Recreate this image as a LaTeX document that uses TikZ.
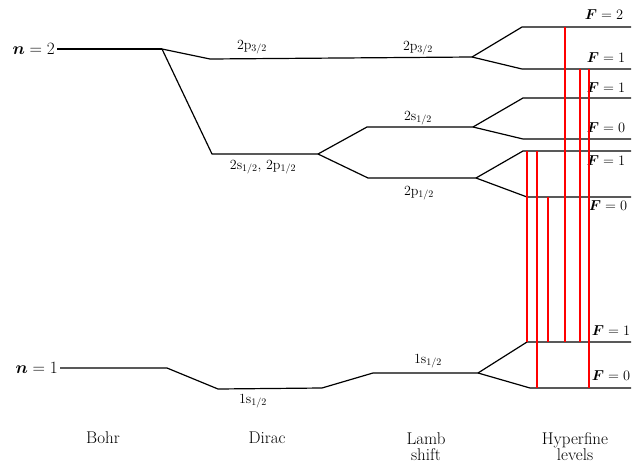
\documentclass[tikz,border=0pt]{standalone}
\usepackage{bm}

\colorlet{TransitionLine}{red}
\colorlet{LevelLine}{black}

\begin{document}
\begin{tikzpicture}[x=1pt, y=-1pt,
    font=\fontsize{14}{16}\selectfont,
    level/.style={draw=LevelLine, line width=1.2pt, line join=round},
    transition/.style={draw=TransitionLine, line width=1.1pt},
    hflabel/.style={font=\fontsize{15}{17}\selectfont},
    title/.style={font=\fontsize{17}{18}\selectfont, align=center, inner sep=0pt}]

    \useasboundingbox (0,0) rectangle (632,466);

    \def\xend{631}

    % n = 2
    \coordinate (bohrTwoL) at (57,49);
    \coordinate (bohrTwoR) at (162,49);
    \draw[level] (bohrTwoL) -- (bohrTwoR);
    \node[anchor=east, inner sep=2pt, font=\fontsize{16}{18}\selectfont] (nTwo) at (bohrTwoL) {$\bm{n} = 2$};

    % 2p3/2 branch
    \coordinate (diracPThree) at (210,59);
    \coordinate (lambPThree) at (472,57);
    \draw[level] (bohrTwoR) -- (diracPThree) -- (lambPThree);
    \draw[level] (lambPThree) -- (522,27) -- (\xend,27);
    \draw[level] (lambPThree) -- (522,69) -- (\xend,69);
    \node (lblDiracPThree) at (252,47) {2p$_{3/2}$};
    \node (lblLambPThree) at (418,48) {2p$_{3/2}$};

    % 2s1/2, 2p1/2 branch
    \coordinate (diracSP) at (212,154);
    \coordinate (lambSplit) at (318,154);
    \draw[level] (bohrTwoR) -- (diracSP) -- (lambSplit);
    \node (lblDiracSP) at (263,167) {2s$_{1/2}$, 2p$_{1/2}$};

    \coordinate (lambS) at (473,127);
    \draw[level] (lambSplit) -- (367,127) -- (lambS);
    \draw[level] (lambS) -- (523,98) -- (\xend,98);
    \draw[level] (lambS) -- (523,139) -- (\xend,139);
    \node (lblLambS) at (418,118) {2s$_{1/2}$};

    \coordinate (lambP) at (476,178);
    \draw[level] (lambSplit) -- (368,178) -- (lambP);
    \draw[level] (lambP) -- (523,151) -- (\xend,151);
    \draw[level] (lambP) -- (527,197) -- (\xend,197);
    \node (lblLambP) at (419,193) {2p$_{1/2}$};

    % n = 1
    \coordinate (bohrOneL) at (60,368);
    \coordinate (bohrOneR) at (167,368);
    \coordinate (lambOne) at (478,373);
    \draw[level] (bohrOneL) -- (bohrOneR) -- (218,389) -- (322,388)
        -- (373,373) -- (lambOne);
    \draw[level] (lambOne) -- (527,342) -- (\xend,342);
    \draw[level] (lambOne) -- (530,388) -- (\xend,388);
    \node[anchor=east, inner sep=2pt, font=\fontsize{16}{18}\selectfont] (nOne) at (bohrOneL) {$\bm{n} = 1$};
    \node (lblDiracOne) at (253,401) {1s$_{1/2}$};
    \node (lblLambOne) at (428,361) {1s$_{1/2}$};

    % hyperfine labels
    \node[hflabel] (fTwo) at (604,15) {$\bm{F} = 2$};
    \node[hflabel] (fOneP) at (606,58) {$\bm{F} = 1$};
    \node[hflabel] (fOneS) at (606,88) {$\bm{F} = 1$};
    \node[hflabel] (fZeroS) at (606,128) {$\bm{F} = 0$};
    \node[hflabel] (fOnePh) at (606,161) {$\bm{F} = 1$};
    \node[hflabel] (fZeroPh) at (608,206) {$\bm{F} = 0$};
    \node[hflabel] (fOneG) at (611,331) {$\bm{F} = 1$};
    \node[hflabel] (fZeroG) at (611,376) {$\bm{F} = 0$};

    % transitions
    \foreach \x/\ytop/\ybot in {527/151/342, 537/151/388, 548/197/342,
                                565/27/342, 580/69/342, 589/69/388}
        \draw[transition] (\x,\ytop) -- (\x,\ybot);

    % column titles
    \node[title] (bohr) at (103,438) {Bohr};
    \node[title] (dirac) at (267,438) {Dirac};
    \node[title] (lamb) at (426,447) {Lamb\\[-2pt]shift};
    \node[title] (hyperfine) at (575,447) {Hyperfine\\[-2pt]levels};

\end{tikzpicture}
\end{document}
